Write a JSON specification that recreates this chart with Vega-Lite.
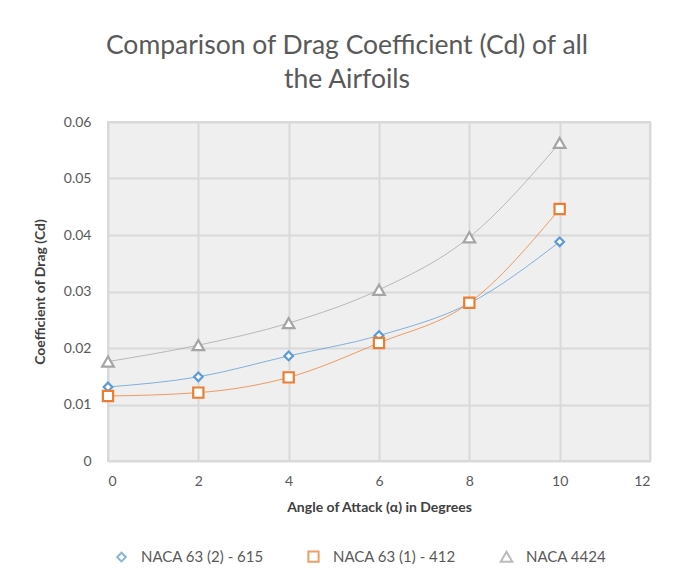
{
  "$schema": "https://vega.github.io/schema/vega-lite/v6.json",
  "width": 542,
  "height": 339,
  "autosize": {"type": "none"},
  "padding": {"left": 108, "top": 122, "right": 33, "bottom": 117},
  "background": "white",
  "title": {
    "text": ["Comparison of Drag Coefficient (Cd) of all", "the Airfoils"],
    "font": "Lato",
    "fontSize": 26.5,
    "fontWeight": "normal",
    "color": "#595959",
    "anchor": "middle",
    "dx": -32,
    "lineHeight": 34,
    "offset": 22
  },
  "data": {
    "values": [
      {"angle": 0, "cd": 0.0131, "airfoil": "NACA 63 (2) - 615"},
      {"angle": 2, "cd": 0.0149, "airfoil": "NACA 63 (2) - 615"},
      {"angle": 4, "cd": 0.0186, "airfoil": "NACA 63 (2) - 615"},
      {"angle": 6, "cd": 0.0222, "airfoil": "NACA 63 (2) - 615"},
      {"angle": 8, "cd": 0.0279, "airfoil": "NACA 63 (2) - 615"},
      {"angle": 10, "cd": 0.0388, "airfoil": "NACA 63 (2) - 615"},
      {"angle": 0, "cd": 0.0115, "airfoil": "NACA 63 (1) - 412"},
      {"angle": 2, "cd": 0.0121, "airfoil": "NACA 63 (1) - 412"},
      {"angle": 4, "cd": 0.0148, "airfoil": "NACA 63 (1) - 412"},
      {"angle": 6, "cd": 0.0209, "airfoil": "NACA 63 (1) - 412"},
      {"angle": 8, "cd": 0.0280, "airfoil": "NACA 63 (1) - 412"},
      {"angle": 10, "cd": 0.0446, "airfoil": "NACA 63 (1) - 412"},
      {"angle": 0, "cd": 0.0176, "airfoil": "NACA 4424"},
      {"angle": 2, "cd": 0.0205, "airfoil": "NACA 4424"},
      {"angle": 4, "cd": 0.0244, "airfoil": "NACA 4424"},
      {"angle": 6, "cd": 0.0303, "airfoil": "NACA 4424"},
      {"angle": 8, "cd": 0.0396, "airfoil": "NACA 4424"},
      {"angle": 10, "cd": 0.0563, "airfoil": "NACA 4424"}
    ]
  },
  "encoding": {
    "x": {
      "field": "angle",
      "type": "quantitative",
      "scale": {"domain": [0, 12], "nice": false},
      "axis": {
        "title": "Angle of Attack (α) in Degrees",
        "values": [0, 2, 4, 6, 8, 10, 12],
        "grid": true,
        "domain": false,
        "ticks": false,
        "labelPadding": 13,
        "titlePadding": 12
      }
    },
    "y": {
      "field": "cd",
      "type": "quantitative",
      "scale": {"domain": [0, 0.06], "nice": false},
      "axis": {
        "title": "Coefficient of Drag (Cd)",
        "values": [0, 0.01, 0.02, 0.03, 0.04, 0.05, 0.06],
        "labelExpr": "datum.value == 0 ? '0' : format(datum.value, '.2f')",
        "grid": true,
        "domain": false,
        "ticks": false,
        "labelPadding": 17,
        "titlePadding": 16
      }
    },
    "color": {
      "field": "airfoil",
      "type": "nominal",
      "sort": ["NACA 63 (2) - 615", "NACA 63 (1) - 412", "NACA 4424"],
      "scale": {
        "domain": ["NACA 63 (2) - 615", "NACA 63 (1) - 412", "NACA 4424"],
        "range": ["#5B9BD5", "#ED7D31", "#A5A5A5"]
      },
      "legend": {
        "orient": "none",
        "legendX": 6,
        "legendY": 427,
        "direction": "horizontal",
        "title": null,
        "columnPadding": 40,
        "labelOffset": 12,
        "symbolStrokeWidth": 2,
        "symbolSize": 70,
        "labelFont": "Lato",
        "labelFontSize": 15,
        "labelColor": "#595959"
      }
    }
  },
  "layer": [
    {
      "mark": {"type": "line", "interpolate": "monotone", "strokeWidth": 1, "opacity": 0.75},
      "encoding": {"detail": {"field": "airfoil"}}
    },
    {
      "mark": {"type": "point", "filled": false, "fill": "white", "fillOpacity": 1, "strokeWidth": 2.2, "opacity": 1},
      "encoding": {
        "shape": {
          "field": "airfoil",
          "type": "nominal",
          "sort": ["NACA 63 (2) - 615", "NACA 63 (1) - 412", "NACA 4424"],
          "scale": {
            "domain": ["NACA 63 (2) - 615", "NACA 63 (1) - 412", "NACA 4424"],
            "range": ["diamond", "square", "triangle-up"]
          }
        },
        "size": {
          "field": "airfoil",
          "type": "nominal",
          "legend": null,
          "scale": {
            "domain": ["NACA 63 (2) - 615", "NACA 63 (1) - 412", "NACA 4424"],
            "range": [75, 135, 110]
          }
        }
      }
    }
  ],
  "config": {
    "view": {"fill": "#efefef", "stroke": "#d9d9d9", "strokeWidth": 2},
    "axis": {
      "gridColor": "#d9d9d9",
      "gridWidth": 2,
      "labelFont": "Lato",
      "labelFontSize": 14,
      "labelColor": "#595959",
      "titleFont": "Lato",
      "titleFontSize": 14,
      "titleFontWeight": "bold",
      "titleColor": "#404040"
    }
  }
}
